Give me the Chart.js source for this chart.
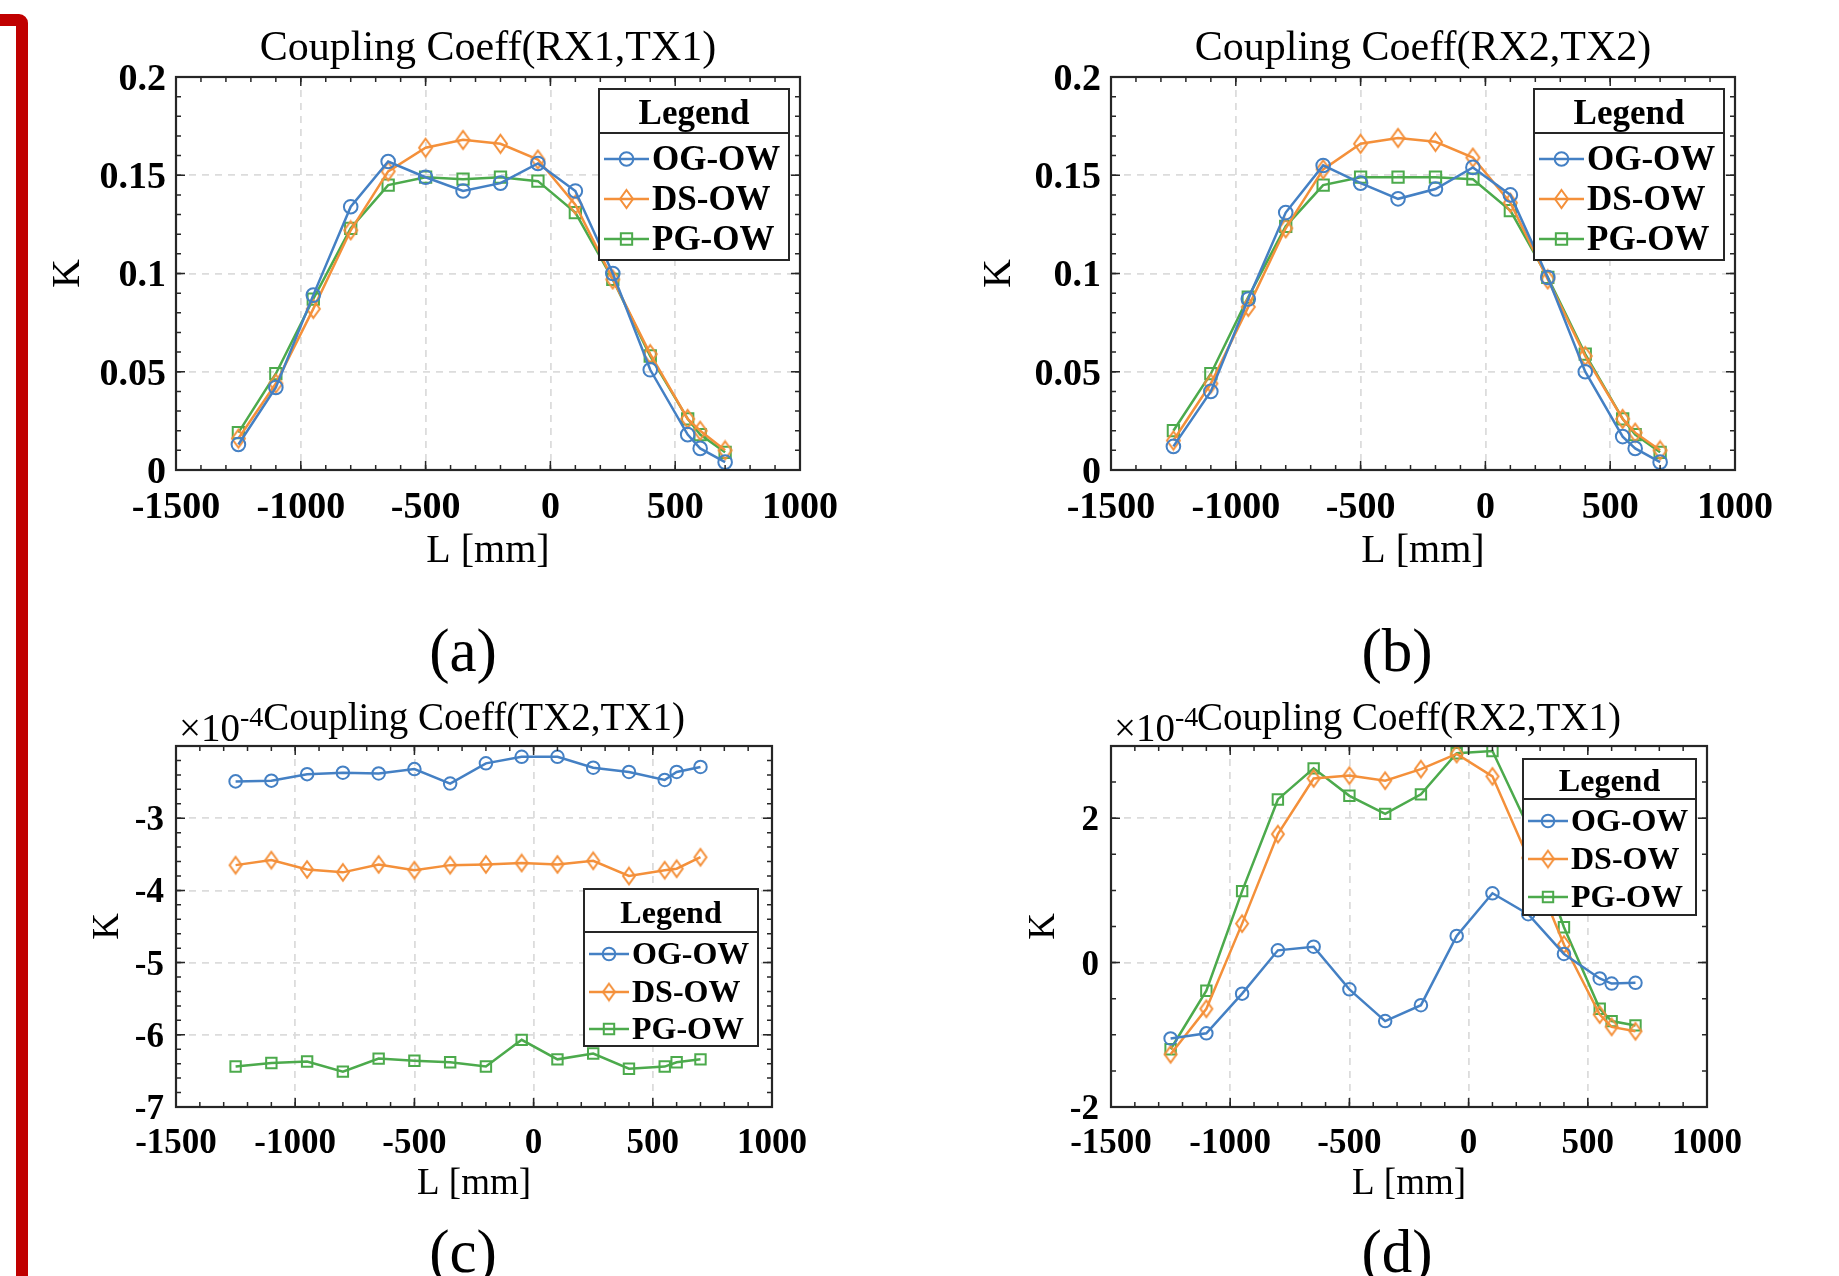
<!DOCTYPE html>
<html><head><meta charset="utf-8">
<script src="https://cdn.jsdelivr.net/npm/chart.js@4.4.1/dist/chart.umd.min.js"></script>
<style>
html,body{margin:0;padding:0;background:#fff;width:1839px;height:1276px;overflow:hidden;position:relative;font-family:'Liberation Serif','Times New Roman',serif;}
.panel{position:absolute;}
.panel canvas{display:block;}
.cap{position:absolute;font-size:61px;transform:translate(-50%,-50%);line-height:1;white-space:nowrap;color:#000;}
#bar{position:absolute;left:-200px;top:14px;width:228px;height:2000px;box-sizing:border-box;border:12px solid #c00000;border-radius:0 9px 0 0;}
</style></head><body>
<div id="bar"></div>
<div class="panel" style="left:0;top:0;width:920px;height:600px"><canvas id="cA" width="920" height="600"></canvas></div>
<div class="panel" style="left:920px;top:0;width:919px;height:600px"><canvas id="cB" width="919" height="600"></canvas></div>
<div class="panel" style="left:0;top:680px;width:920px;height:596px"><canvas id="cC" width="920" height="596"></canvas></div>
<div class="panel" style="left:920px;top:680px;width:919px;height:596px"><canvas id="cD" width="919" height="596"></canvas></div>
<div class="cap" style="left:463px;top:650px">(a)</div>
<div class="cap" style="left:1397px;top:650px">(b)</div>
<div class="cap" style="left:463px;top:1251px">(c)</div>
<div class="cap" style="left:1397px;top:1251px">(d)</div>
<script>
// ---------- data ----------
const L_mm = [-1250,-1100,-950,-800,-650,-500,-350,-200,-50,100,250,400,550,600,700];
const seriesNames = ['OG-OW','DS-OW','PG-OW'];
const xTicks = [-1500,-1000,-500,0,500,1000];
const xTickLabels = ['-1500','-1000','-500','0','500','1000'];

// (a) Coupling Coeff(RX1,TX1)
const a_OG = [0.013,0.042,0.089,0.134,0.157,0.149,0.142,0.146,0.156,0.142,0.100,0.051,0.018,0.011,0.004];
const a_DS = [0.016,0.044,0.082,0.122,0.152,0.164,0.168,0.166,0.158,0.135,0.097,0.059,0.026,0.020,0.010];
const a_PG = [0.019,0.049,0.087,0.123,0.145,0.149,0.148,0.149,0.147,0.131,0.097,0.058,0.026,0.018,0.009];
// (b) Coupling Coeff(RX2,TX2)
const b_OG = [0.012,0.040,0.087,0.131,0.155,0.146,0.138,0.143,0.154,0.140,0.098,0.050,0.017,0.011,0.004];
const b_DS = [0.015,0.044,0.083,0.123,0.153,0.166,0.169,0.167,0.159,0.136,0.097,0.058,0.026,0.019,0.010];
const b_PG = [0.020,0.049,0.088,0.124,0.145,0.149,0.149,0.149,0.148,0.132,0.098,0.059,0.026,0.018,0.009];
// (c) Coupling Coeff(TX2,TX1), in units of 1e-4
const c_OG = [-2.49,-2.48,-2.39,-2.37,-2.38,-2.32,-2.52,-2.24,-2.15,-2.15,-2.30,-2.36,-2.47,-2.36,-2.29];
const c_DS = [-3.65,-3.58,-3.71,-3.75,-3.64,-3.72,-3.65,-3.64,-3.62,-3.64,-3.59,-3.80,-3.72,-3.70,-3.54];
const c_PG = [-6.44,-6.39,-6.37,-6.51,-6.33,-6.36,-6.38,-6.44,-6.07,-6.34,-6.26,-6.47,-6.44,-6.38,-6.34];
// (d) Coupling Coeff(RX2,TX1), in units of 1e-4
const d_OG = [-1.05,-0.98,-0.43,0.17,0.22,-0.37,-0.81,-0.59,0.37,0.96,0.67,0.12,-0.22,-0.29,-0.28];
const d_DS = [-1.27,-0.64,0.54,1.78,2.55,2.59,2.52,2.68,2.89,2.58,1.45,0.25,-0.72,-0.89,-0.95];
const d_PG = [-1.20,-0.39,0.99,2.26,2.69,2.31,2.06,2.33,2.90,2.93,1.88,0.49,-0.64,-0.81,-0.87];

const yTicksAB = [0,0.05,0.1,0.15,0.2];
const yTickLabelsAB = ['0','0.05','0.1','0.15','0.2'];
const yTicksC = [-7,-6,-5,-4,-3];
const yTickLabelsC = ['-7','-6','-5','-4','-3'];
const yTicksD = [-2,0,2];
const yTickLabelsD = ['-2','0','2'];

const titles = ['Coupling Coeff(RX1,TX1)','Coupling Coeff(RX2,TX2)','Coupling Coeff(TX2,TX1)','Coupling Coeff(RX2,TX1)'];
const xTitle = 'L [mm]';
const yTitle = 'K';
const legendTitle = 'Legend';
const expText = ['\u00d710','-4'];

// ---------- style ----------
const SERIF = "'Liberation Serif','Times New Roman',serif";
const COLORS = ['#4480c4','#f4903a','#4caa4c'];
const AXC = '#262626';

function diamondImg(color, w, h, lw){
  const c = document.createElement('canvas');
  c.width = Math.ceil(w + lw*2); c.height = Math.ceil(h + lw*2);
  const g = c.getContext('2d');
  g.strokeStyle = color; g.lineWidth = lw; g.lineJoin = 'miter';
  const cx = c.width/2, cy = c.height/2;
  g.beginPath(); g.moveTo(cx, cy-h/2); g.lineTo(cx+w/2, cy); g.lineTo(cx, cy+h/2); g.lineTo(cx-w/2, cy); g.closePath(); g.stroke();
  return c;
}

const matlabPlugin = {
  id: 'matlab',
  afterDatasetsDraw(chart, args, o){
    const ctx = chart.ctx, a = chart.chartArea;
    const xs = chart.scales.x, ys = chart.scales.y;
    ctx.save();
    ctx.strokeStyle = AXC; ctx.lineWidth = 1.5;
    const tickX = (step, len) => {
      for (let v = xs.min; v <= xs.max + 1e-9; v += step){
        const p = xs.getPixelForValue(v);
        ctx.beginPath(); ctx.moveTo(p, a.bottom); ctx.lineTo(p, a.bottom-len);
        ctx.moveTo(p, a.top); ctx.lineTo(p, a.top+len); ctx.stroke();
      }
    };
    const tickY = (step, len) => {
      const n = Math.round((ys.max-ys.min)/step);
      for (let i=0;i<=n;i++){
        const p = ys.getPixelForValue(ys.min + i*step);
        ctx.beginPath(); ctx.moveTo(a.left, p); ctx.lineTo(a.left+len, p);
        ctx.moveTo(a.right, p); ctx.lineTo(a.right-len, p); ctx.stroke();
      }
    };
    tickX(o.xMinor, 5); tickX(o.xMajor, 9);
    tickY(o.yMinor, 5); tickY(o.yMajor, 9);
    ctx.lineWidth = 2.2;
    ctx.strokeRect(a.left, a.top, a.right-a.left, a.bottom-a.top);
    ctx.restore();
  },
  afterDraw(chart, args, o){
    const ctx = chart.ctx, a = chart.chartArea;
    ctx.save();
    // title
    ctx.fillStyle = '#000';
    ctx.font = `${o.titleFont}px ${SERIF}`;
    ctx.textAlign = 'center'; ctx.textBaseline = 'middle';
    ctx.fillText(o.title, (a.left+a.right)/2, a.top - o.titleGap);
    // exponent
    if (o.exp){
      ctx.textAlign = 'left'; ctx.textBaseline = 'alphabetic';
      ctx.font = `${o.expFont}px ${SERIF}`;
      const x0 = a.left + 3;
      ctx.fillText(expText[0], x0, a.top - 5);
      const w = ctx.measureText(expText[0]).width;
      ctx.font = `${Math.round(o.expFont*0.72)}px ${SERIF}`;
      ctx.fillText(expText[1], x0 + w, a.top - 20);
    }
    // legend
    const lg = o.legend;
    const x0 = a.right - lg.offR - lg.w, y0 = a.top + lg.offT;
    ctx.fillStyle = '#fff'; ctx.fillRect(x0, y0, lg.w, lg.h);
    ctx.strokeStyle = AXC; ctx.lineWidth = 2;
    ctx.strokeRect(x0, y0, lg.w, lg.h);
    ctx.beginPath(); ctx.moveTo(x0, y0+lg.div); ctx.lineTo(x0+lg.w, y0+lg.div); ctx.stroke();
    ctx.fillStyle = '#000';
    ctx.font = `bold ${lg.font}px ${SERIF}`;
    ctx.textAlign = 'center'; ctx.textBaseline = 'middle';
    ctx.fillText(legendTitle, x0 + lg.w/2, y0 + lg.div/2 + 4);
    chart.data.datasets.forEach((ds, i) => {
      const yy = y0 + lg.rows[i] + 2;
      ctx.strokeStyle = ds.borderColor; ctx.lineWidth = ds.borderWidth;
      ctx.beginPath(); ctx.moveTo(x0+lg.l0, yy); ctx.lineTo(x0+lg.l1, yy); ctx.stroke();
      ctx.lineWidth = ds.pointBorderWidth; ctx.fillStyle = 'rgba(0,0,0,0)';
      Chart.helpers.drawPoint(ctx, {pointStyle: ds.pointStyle, radius: ds.pointRadius, borderWidth: ds.pointBorderWidth, rotation: 0}, x0 + (lg.l0+lg.l1)/2, yy);
      ctx.fillStyle = '#000'; ctx.textAlign = 'left';
      ctx.fillText(ds.label, x0 + lg.tx, yy + 2);
    });
    ctx.restore();
  }
};

function makePanel(id, series, g){
  const markers = [
    {pointStyle:'circle', pointRadius:g.mk*6.8},
    {pointStyle:diamondImg(COLORS[1], g.mk*13, g.mk*18, 2), pointRadius:g.mk*8},
    {pointStyle:'rect', pointRadius:g.mk*8}
  ];
  const datasets = series.map((vals, i) => ({
    label: seriesNames[i],
    data: L_mm.map((x, k) => ({x: x, y: vals[k]})),
    borderColor: COLORS[i],
    backgroundColor: COLORS[i],
    borderWidth: 2.5,
    pointBorderColor: COLORS[i],
    pointBackgroundColor: 'rgba(0,0,0,0)',
    pointBorderWidth: 2,
    pointStyle: markers[i].pointStyle,
    pointRadius: markers[i].pointRadius,
    tension: 0
  }));
  return new Chart(document.getElementById(id), {
    type: 'line',
    data: {datasets},
    plugins: [matlabPlugin],
    options: {
      responsive: false, animation: false, events: [],
      layout: {padding: g.pad},
      plugins: {
        legend: {display:false}, tooltip: {enabled:false},
        matlab: {
          title: g.title, titleFont: g.titleFont, titleGap: g.titleGap,
          exp: g.exp, expFont: g.expFont,
          xMajor: 500, xMinor: 100, yMajor: g.yMajor, yMinor: g.yMinor,
          legend: g.legend
        }
      },
      scales: {
        x: {
          type: 'linear', min: -1500, max: 1000,
          afterBuildTicks: s => { s.ticks = xTicks.map(v => ({value: v})); },
          afterFit: s => { s.height = g.xHeight; s.paddingLeft = 0; s.paddingRight = 0; },
          grid: {color: '#dcdcdc', lineWidth: 1.8, drawTicks: false},
          border: {display: false, dash: [7, 6]},
          ticks: {
            font: {family: SERIF, size: g.tickFont, weight: 'bold'}, color: '#000',
            padding: g.xTickPad, maxRotation: 0, autoSkip: false,
            callback: v => xTickLabels[xTicks.indexOf(v)]
          },
          title: {display: true, text: xTitle, color: '#000',
            font: {family: SERIF, size: g.axisFont, weight: 'normal'},
            padding: {top: 0, bottom: g.xTitlePad}}
        },
        y: {
          type: 'linear', min: g.yMin, max: g.yMax,
          afterBuildTicks: s => { s.ticks = g.yTicks.map(v => ({value: v})); },
          afterFit: s => { s.width = g.yWidth; s.paddingTop = 0; s.paddingBottom = 0; },
          grid: {color: '#dcdcdc', lineWidth: 1.8, drawTicks: false},
          border: {display: false, dash: [7, 6]},
          ticks: {
            font: {family: SERIF, size: g.tickFont, weight: 'bold'}, color: '#000',
            padding: g.yTickPad, autoSkip: false, labelOffset: 3,
            callback: v => g.yLabels[g.yTicks.indexOf(v)]
          },
          title: {display: true, text: yTitle, color: '#000',
            font: {family: SERIF, size: g.axisFont, weight: 'normal'},
            padding: {top: g.yTitlePad, bottom: 0}}
        }
      }
    }
  });
}

const legTop = {offR: 11, offT: 12, w: 190, h: 171, div: 44, rows: [68, 108, 148], font: 35, l0: 5, l1: 50, tx: 53};
const legC = {offR: 14, offT: 143, w: 174, h: 157, div: 43, rows: [63, 101, 138], font: 32, l0: 5, l1: 45, tx: 48};
const legD = {offR: 11, offT: 13, w: 173, h: 156, div: 40, rows: [60, 98, 136], font: 32, l0: 5, l1: 45, tx: 48};

const topGeom = {yMin: 0, yMax: 0.2, yTicks: yTicksAB, yLabels: yTickLabelsAB, yMajor: 0.05, yMinor: 0.01,
  xHeight: 105, tickFont: 38, axisFont: 40, titleFont: 42, titleGap: 28, xTickPad: 15, xTitlePad: 0, yTickPad: 10,
  exp: false, mk: 1, legend: legTop};
const botGeom = {xHeight: 100, tickFont: 35, axisFont: 37, titleFont: 39, titleGap: 26, xTickPad: 16, xTitlePad: 1, yTickPad: 12,
  exp: true, expFont: 39, mk: 0.92};

function start(){
  makePanel('cA', [a_OG, a_DS, a_PG], Object.assign({}, topGeom, {title: titles[0], yWidth: 176, yTitlePad: 44,
    pad: {top: 77, right: 120, bottom: 25, left: 0}}));
  makePanel('cB', [b_OG, b_DS, b_PG], Object.assign({}, topGeom, {title: titles[1], yWidth: 191, yTitlePad: 55,
    pad: {top: 77, right: 104, bottom: 25, left: 0}}));
  makePanel('cC', [c_OG, c_DS, c_PG], Object.assign({}, botGeom, {title: titles[2], yMin: -7, yMax: -2,
    yTicks: yTicksC, yLabels: yTickLabelsC, yMajor: 1, yMinor: 0.2, yWidth: 176, yTitlePad: 86, legend: legC,
    pad: {top: 66, right: 148, bottom: 69, left: 0}}));
  makePanel('cD', [d_OG, d_DS, d_PG], Object.assign({}, botGeom, {title: titles[3], yMin: -2, yMax: 3,
    yTicks: yTicksD, yLabels: yTickLabelsD, yMajor: 2, yMinor: 0.5, yWidth: 191, yTitlePad: 102, legend: legD,
    pad: {top: 66, right: 132, bottom: 69, left: 0}}));
}
const fontLoads = ['bold 38px "Liberation Serif"', '40px "Liberation Serif"'].map(f => document.fonts ? document.fonts.load(f) : Promise.resolve());
Promise.all(fontLoads).then(start, start);
</script>
</body></html>
